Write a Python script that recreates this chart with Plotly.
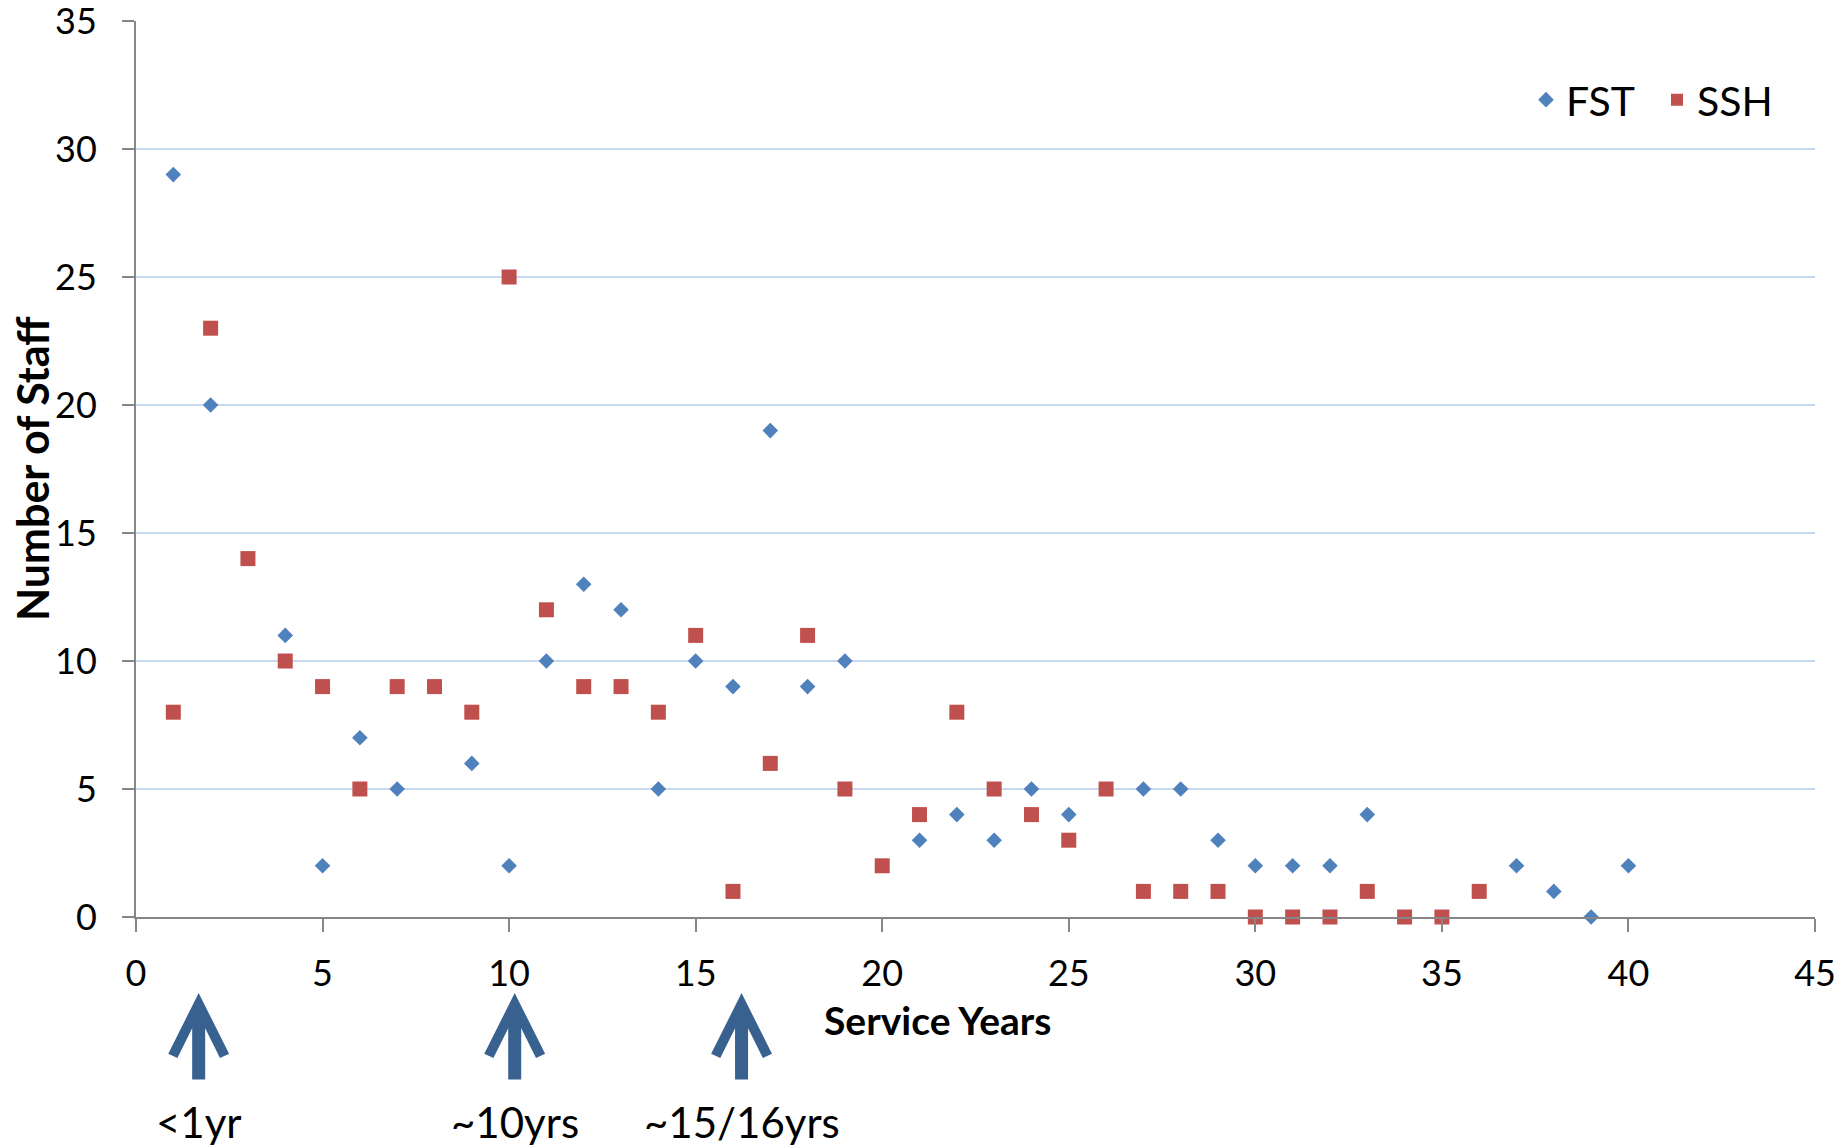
import plotly.graph_objects as go

# ---- data ----
fst_years = [1, 2, 4, 5, 6, 7, 9, 10, 11, 12, 13, 14, 15, 16, 17, 18, 19,
             21, 22, 23, 24, 25, 27, 28, 29, 30, 31, 32, 33, 37, 38, 39, 40]
fst_staff = [29, 20, 11, 2, 7, 5, 6, 2, 10, 13, 12, 5, 10, 9, 19, 9, 10,
             3, 4, 3, 5, 4, 5, 5, 3, 2, 2, 2, 4, 2, 1, 0, 2]

ssh_years = [1, 2, 3, 4, 5, 6, 7, 8, 9, 10, 11, 12, 13, 14, 15, 16, 17, 18,
             19, 20, 21, 22, 23, 24, 25, 26, 27, 28, 29, 30, 31, 32, 33, 34, 35, 36]
ssh_staff = [8, 23, 14, 10, 9, 5, 9, 9, 8, 25, 12, 9, 9, 8, 11, 1, 6, 11,
             5, 2, 4, 8, 5, 4, 3, 5, 1, 1, 1, 0, 0, 0, 1, 0, 0, 1]

arrow_x = [1.68, 10.15, 16.23]
arrow_labels = ["<1yr", "~10yrs", "~15/16yrs"]

x_ticks = [0, 5, 10, 15, 20, 25, 30, 35, 40, 45]
y_ticks = [0, 5, 10, 15, 20, 25, 30, 35]

FONT = "Lato, 'Open Sans', sans-serif"
BLUE = "#4F81BD"
RED = "#C0504D"
ARROW = "#38618F"
AXIS = "#868686"
GRID = "#C6D9F1"

fig = go.Figure()
fig.add_trace(go.Scatter(x=fst_years, y=fst_staff, mode="markers", name="FST",
                         marker=dict(symbol="diamond", size=12, color=BLUE, line=dict(width=0)),
                         cliponaxis=False))
fig.add_trace(go.Scatter(x=ssh_years, y=ssh_staff, mode="markers", name="SSH",
                         marker=dict(symbol="square", size=15, color=RED, line=dict(width=0)),
                         cliponaxis=False))

annotations = []
for xv, lab in zip(arrow_x, arrow_labels):
    annotations.append(dict(x=xv, xref="x", y=-0.0848, yref="paper",
                            ax=0, ay=88, axref="pixel", ayref="pixel",
                            text="", showarrow=True, arrowhead=5, arrowsize=0.78,
                            arrowwidth=13, arrowcolor=ARROW, standoff=0, startstandoff=0))
    annotations.append(dict(x=xv, xref="x", y=-0.229, yref="paper",
                            text=lab, showarrow=False, xanchor="center", yanchor="middle",
                            font=dict(family=FONT, size=42, color="black")))

annotations.append(dict(x=(938 - 136) / 1679, xref="paper", y=(917 - 1020) / 896, yref="paper",
                        text="<b>Service Years</b>", showarrow=False,
                        xanchor="center", yanchor="middle",
                        font=dict(family=FONT, size=39, color="black")))
annotations.append(dict(x=(32 - 136) / 1679, xref="paper", y=0.5, yref="paper",
                        text="<b>Number of Staff</b>", showarrow=False, textangle=-90,
                        xanchor="center", yanchor="middle",
                        font=dict(family=FONT, size=43, color="black")))

fig.update_layout(
    width=1843, height=1148,
    margin=dict(l=136, r=28, t=21, b=231, autoexpand=False),
    paper_bgcolor="white", plot_bgcolor="white",
    font=dict(family=FONT, color="black"),
    showlegend=True,
    legend=dict(orientation="h", x=(1526 - 136) / 1679, y=(917 - 100) / 896,
                xanchor="left", yanchor="middle", bgcolor="rgba(0,0,0,0)",
                font=dict(family=FONT, size=41, color="black"),
                itemsizing="constant", itemwidth=30, tracegroupgap=0,
                entrywidth=86, entrywidthmode="pixels"),
    xaxis=dict(range=[0, 45], tickvals=x_ticks, showgrid=False, zeroline=False,
               showline=True, linecolor=AXIS, linewidth=2,
               ticks="outside", ticklen=13, tickwidth=2, tickcolor=AXIS,
               ticklabelstandoff=11, ticklabeloverflow="allow",
               tickfont=dict(family=FONT, size=36, color="black")),
    yaxis=dict(range=[0, 35], tickvals=y_ticks, showgrid=True, gridcolor=GRID, gridwidth=1.5,
               zeroline=False, showline=True, linecolor=AXIS, linewidth=2,
               ticks="outside", ticklen=12, tickwidth=2, tickcolor=AXIS,
               ticklabelstandoff=18, ticklabeloverflow="allow",
               tickfont=dict(family=FONT, size=36, color="black")),
    annotations=annotations,
)

fig.write_html("out.html", config={"displayModeBar": False},
               post_script="document.body.style.margin='0px';document.body.style.overflow='hidden';")
